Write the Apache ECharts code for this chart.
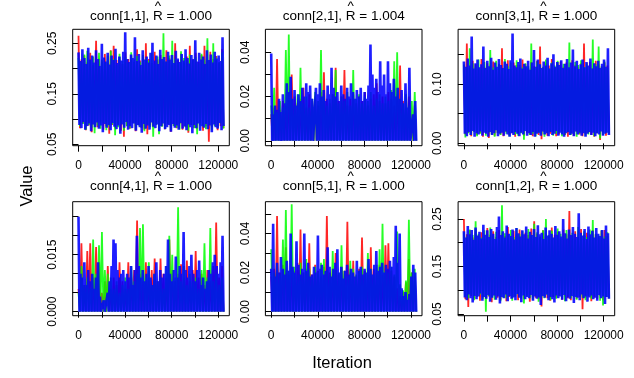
<!DOCTYPE html>
<html><head><meta charset="utf-8">
<script src="https://cdn.jsdelivr.net/npm/echarts@6/dist/echarts.min.js"></script>
<style>html,body{margin:0;padding:0;background:#fff}#c{width:634px;height:378px}</style>
</head><body><div id="c"></div>
<script>
// ---------------- data ----------------
const ITER_END = 124500;
const parameters = ['conn[1,1]','conn[2,1]','conn[3,1]','conn[4,1]','conn[5,1]','conn[1,2]'];
const rhatValues = ['1.000','1.004','1.000','1.000','1.000','1.000'];
const xTicks = [0,20000,40000,60000,80000,100000,120000];
const xTickLabels = [0,40000,80000,120000];
const yTicks = [[.05,.1,.15,.2,.25],[0,.01,.02,.03,.04],[0,.05,.1,.15],[0,.005,.01,.015,.02,.025],[0,.01,.02,.03,.04,.05],[.05,.1,.15,.2,.25]];
const yTickLabels = [[.05,.15,.25],[0,.02,.04],[0,.1],[0,.015],[0,.02,.04],[.05,.15,.25]];

// conn[1,1]
const c11_red = [.265,.082,.218,.091,.226,.078,.212,.087,.231,.074,.207,.089,.255,.084,.22,.093,.214,.079,.229,.086,
.211,.071,.236,.088,.245,.083,.217,.09,.223,.077,.209,.065,.232,.086,.219,.081,.226,.092,.213,.076,
.238,.088,.216,.083,.224,.079,.25,.07,.219,.087,.211,.084,.233,.091,.218,.078,.227,.086,.214,.08,
.236,.089,.221,.075,.208,.087,.25,.082,.217,.09,.229,.079,.212,.085,.224,.073,.245,.088,.218,.083,
.231,.08,.213,.092,.227,.077,.245,.086,.216,.055,.233,.084,.219,.089,.225,.078,.211,.086,.238,.082];
const c11_green = [.221,.086,.213,.09,.228,.079,.235,.088,.216,.083,.224,.072,.209,.087,.231,.081,.218,.092,.212,.078,
.226,.085,.235,.089,.219,.068,.207,.084,.229,.09,.215,.077,.223,.086,.211,.082,.232,.091,.218,.079,
.225,.087,.213,.083,.227,.076,.22,.089,.216,.084,.231,.065,.209,.088,.224,.07,.218,.085,.27,.081,
.214,.09,.226,.078,.255,.086,.219,.083,.212,.079,.234,.091,.221,.084,.215,.077,.228,.088,.217,.082,
.223,.07,.21,.087,.229,.085,.218,.08,.26,.089,.216,.078,.25,.086,.222,.083,.213,.091,.232,.081];
const c11_blue = [.232,.088,.215,.082,.238,.094,.221,.079,.209,.086,.241,.091,.218,.076,.226,.089,.212,.084,.236,.093,
.219,.081,.205,.087,.249,.074,.222,.09,.214,.083,.231,.088,.208,.078,.226,.092,.217,.085,.239,.08,
.211,.087,.224,.071,.216,.089,.233,.083,.272,.094,.219,.079,.213,.086,.228,.082,.221,.091,.262,.077,
.215,.088,.229,.084,.207,.073,.236,.09,.218,.081,.224,.087,.212,.079,.231,.093,.251,.085,.216,.082,
.226,.089,.209,.076,.237,.086,.219,.091,.223,.08,.214,.084,.233,.088,.218,.075,.227,.09,.211,.083,
.235,.087,.22,.079,.213,.092,.229,.081,.216,.086,.238,.078,.221,.089,.21,.084,.227,.072,.219,.088,
.256,.082,.214,.091,.231,.077,.218,.086,.224,.083,.209,.09,.236,.08,.217,.087,.228,.074,.212,.089,
.233,.084,.22,.081,.226,.092,.215,.078,.262,.086];

// conn[2,1]
const c21_red = [.012,0,.015,0,.037,0,.014,0,.018,0,.016,0,.022,0,.03,0,.02,0,.017,0,
.019,0,.024,0,.015,0,.021,0,.018,0,.02,0,.016,0,.022,0,.031,0,.019,0,
.017,0,.021,0,.033,0,.018,0,.02,0,.032,0,.016,0,.019,0,.021,0,.017,0,
.02,0,.018,0,.022,0,.016,0,.019,0,.021,0,.026,0,.018,0,.02,0,.017,0,
.022,0,.019,0,.016,0,.021,0,.034,0,.018,0,.015,0,.02,0,.012,0,.016,0];
const c21_green = [.016,0,.024,0,.013,0,.018,0,.015,0,.041,0,.048,0,.019,0,.016,0,.021,0,
.033,0,.017,0,.02,0,.015,0,.019,0,.022,0,.018,0,.041,0,.02,0,.016,0,
.019,0,.021,0,.032,0,.017,0,.02,0,.018,0,.022,0,.016,0,.032,0,.019,0,
.021,0,.017,0,.02,0,.018,0,.022,0,.016,0,.019,0,.021,0,.017,0,.02,0,
.018,0,.023,0,.036,0,.04,0,.019,0,.017,0,.021,0,.016,0,.018,0,.022,0];
const c21_blue = [.0395,0,.012,0,.016,0,.014,0,.019,0,.013,0,.021,0,.017,0,.026,0,.022,0,
.029,0,.019,0,.023,0,.016,0,.021,0,.018,0,.024,0,.02,0,.026,0,.022,0,
.025,0,.019,0,0,0,.024,0,.021,0,.026,0,.02,0,.023,0,.018,0,.025,0,
.021,0,.033,0,.024,0,.02,0,.022,0,.018,0,.025,0,.021,0,.019,0,.024,0,
.02,0,.026,0,.022,0,.019,0,.023,0,.02,0,.024,0,.018,0,.022,0,.019,0,
.025,0,.0435,0,.03,0,.024,0,.028,0,.022,0,.036,0,.025,0,.03,0,.021,0,
.036,0,.026,0,.022,0,.028,0,.02,0,.024,0,.019,0,.023,0,.017,0,.026,0,
.015,0,.033,0,0,0,.012,0,.018,0];

// conn[3,1]
const c31_red = [.131,.015,.168,.018,.127,.012,.139,.02,.133,.014,.126,.017,.142,.011,.129,.019,.135,.009,.131,.016,
.138,.013,.127,.018,.134,.015,.16,.012,.13,.019,.14,.014,.125,.017,.136,.011,.132,.016,.128,.02,
.141,.013,.133,.018,.126,.015,.137,.012,.13,.017,.139,.014,.163,.007,.128,.019,.135,.013,.131,.016,
.142,.018,.127,.012,.134,.015,.138,.02,.129,.014,.136,.011,.125,.017,.14,.013,.132,.019,.128,.015,
.135,.012,.168,.016,.13,.018,.137,.014,.127,.011,.139,.017,.133,.0056,.129,.019,.136,.013,.131,.016];
const c31_green = [.133,.01,.128,.017,.16,.014,.135,.019,.129,.012,.141,.016,.126,.02,.137,.013,.131,.018,.157,.015,
.128,.011,.139,.017,.133,.014,.126,.019,.142,.016,.13,.012,.136,.018,.127,.015,.14,.013,.132,.017,
.128,.006,.135,.019,.13,.014,.168,.016,.127,.012,.138,.018,.133,.015,.129,.011,.141,.017,.126,.02,
.136,.013,.131,.016,.139,.018,.128,.012,.134,.015,.13,.019,.17,.014,.127,.017,.137,.011,.132,.016,
.14,.018,.129,.013,.135,.015,.128,.019,.175,.012,.133,.017,.163,.008,.13,.014,.138,.018,.127,.016];
const c31_blue = [.138,.016,.129,.012,.143,.019,.131,.014,.18,.021,.126,.011,.135,.017,.141,.015,.128,.02,.133,.013,
.163,.018,.127,.016,.139,.011,.13,.019,.144,.014,.124,.017,.136,.022,.129,.012,.142,.016,.132,.018,
.127,.013,.138,.02,.134,.015,.125,.011,.14,.017,.185,.014,.131,.019,.128,.016,.137,.012,.143,.018,
.126,.015,.134,.021,.13,.013,.139,.017,.124,.014,.136,.019,.157,.011,.129,.016,.141,.018,.133,.013,
.127,.02,.138,.015,.131,.017,.144,.012,.126,.019,.135,.014,.15,.016,.129,.021,.137,.013,.132,.018,
.14,.015,.127,.011,.134,.017,.142,.019,.128,.014,.136,.016,.158,.012,.13,.02,.139,.015,.125,.018,
.133,.013,.141,.017,.128,.011,.137,.016,.131,.019,.143,.014,.126,.018,.135,.012,.13,.017,.139,.015,
.127,.02,.134,.013,.141,.016,.129,.018,.16,.014];

// conn[4,1]
const c41_red = [.006,0,.018,0,.007,0,.016,0,.018,0,.009,0,.017,0,.013,0,.005,0,.008,0,
.012,0,.006,0,.009,0,.007,0,.013,0,.008,0,.006,0,.013,0,.009,0,.011,0,
.024,0,.01,0,.008,0,.013,0,.009,0,.011,0,.014,0,.008,0,.014,0,.01,0,
.009,0,.019,0,.011,0,.008,0,.01,0,.0125,0,.009,0,.0135,0,.008,0,.011,0,
.016,0,.009,0,.01,0,.007,0,.011,0,.008,0,.012,0,.0235,0,.009,0,.012,0];
const c41_green = [.005,0,.012,0,.007,0,.009,0,.006,0,.019,0,.01,0,.0175,0,.021,0,.011,0,
.01,0,.009,0,.006,0,.008,0,.005,0,.007,0,.009,0,.006,0,.012,0,.008,0,
.01,0,.022,0,.023,0,.009,0,.013,0,.007,0,.01,0,.008,0,.009,0,.006,0,
.012,0,.02,0,.015,0,.009,0,.0275,0,.008,0,.012,0,.007,0,.01,0,.008,0,
.009,0,.006,0,.011,0,.018,0,.009,0,.022,0,.008,0,.01,0,.007,0,.009,0];
const c41_blue = [.025,0,.01,0,.009,0,.013,0,.007,0,.011,0,.008,0,.01,0,.006,0,.009,0,
.013,0,.004,0,0,0,.003,0,0,0,.005,0,.008,0,.012,0,.019,0,.018,0,
.011,0,.009,0,.01,0,.011,0,.008,0,.01,0,.009,0,.012,0,.007,0,.011,0,
.02,0,.012,0,.009,0,.011,0,.008,0,.01,0,.012,0,.009,0,.007,0,.01,0,
.013,0,.008,0,.011,0,.009,0,.01,0,.012,0,.019,0,.01,0,.008,0,.011,0,
.0145,0,.009,0,.012,0,.01,0,.021,0,.011,0,.009,0,.012,0,.015,0,.01,0,
.008,0,.011,0,.0135,0,.007,0,.009,0,.006,0,.008,0,.011,0,.01,0,.013,0,
.015,0,.012,0,.01,0,.013,0,.02,0];

// conn[5,1]
const c51_red = [.018,0,.022,0,.049,0,.02,0,.024,0,.033,0,.019,0,.023,0,.021,0,.025,0,
.042,0,.02,0,.022,0,.035,0,.019,0,.024,0,.021,0,.018,0,.023,0,.049,0,
.02,0,.022,0,.03,0,.019,0,.023,0,.021,0,.046,0,.02,0,.026,0,.018,0,
.022,0,.038,0,.021,0,.019,0,.033,0,.022,0,.02,0,.024,0,.019,0,.034,0,
.035,0,.021,0,.018,0,.012,0,.008,0,.01,0,.015,0,.027,0,.02,0,.018,0];
const c51_green = [.032,0,.02,0,.024,0,.019,0,.037,0,.052,0,.021,0,.055,0,.023,0,.019,0,
.025,0,.02,0,.027,0,.022,0,.018,0,.023,0,.02,0,.025,0,.027,0,.021,0,
.019,0,.031,0,.022,0,.02,0,.034,0,.021,0,.018,0,.026,0,.022,0,.019,0,
.021,0,.023,0,.02,0,.03,0,.022,0,.019,0,.024,0,.032,0,.045,0,.021,0,
.02,0,.023,0,.019,0,.041,0,.014,0,.011,0,.016,0,.047,0,.02,0,.022,0];
const c51_blue = [.022,0,.045,0,.018,0,.025,0,.02,0,.028,0,.022,0,.019,0,.026,0,.021,0,
.04,0,.023,0,.02,0,.036,0,.024,0,.019,0,.022,0,.04,0,.021,0,.025,0,
.018,0,.019,0,.023,0,.02,0,.039,0,.022,0,.024,0,.019,0,.021,0,.033,0,
.023,0,.018,0,.022,0,.025,0,.032,0,.02,0,.023,0,.017,0,.021,0,.024,0,
.019,0,.022,0,.02,0,.018,0,.026,0,.021,0,.023,0,.019,0,.022,0,.02,0,
.027,0,.022,0,.019,0,.024,0,.031,0,.021,0,.023,0,.025,0,.02,0,.024,0,
.022,0,.026,0,.023,0,.028,0,.044,0,.025,0,.04,0,.012,0,.008,0,.01,0,
.006,0,.009,0,.018,0,.024,0,.02,0];

// conn[1,2]
const c12_red = [.25,.081,.218,.065,.226,.088,.211,.083,.229,.09,.215,.078,.222,.086,.208,.082,.231,.087,.217,.075,
.224,.089,.212,.084,.227,.08,.219,.091,.214,.077,.233,.086,.21,.083,.225,.088,.218,.079,.228,.085,
.213,.082,.221,.09,.216,.076,.23,.087,.245,.084,.219,.081,.211,.066,.226,.089,.22,.083,.214,.078,
.232,.086,.217,.085,.223,.09,.209,.08,.228,.087,.218,.083,.267,.079,.215,.088,.224,.082,.212,.086,
.229,.06,.216,.084,.221,.089,.213,.077,.227,.085,.218,.082,.211,.088,.225,.079,.227,.086,.214,.083];
const c12_green = [.221,.087,.213,.083,.228,.089,.216,.079,.245,.086,.219,.091,.211,.082,.226,.055,.218,.088,.232,.084,
.214,.08,.223,.09,.209,.077,.279,.085,.22,.083,.215,.088,.227,.078,.212,.086,.231,.091,.218,.082,
.224,.072,.21,.087,.229,.084,.217,.08,.24,.089,.222,.076,.213,.085,.226,.083,.25,.09,.216,.079,
.225,.086,.211,.082,.23,.088,.219,.084,.214,.077,.227,.091,.218,.083,.221,.086,.209,.08,.233,.088,
.217,.084,.224,.079,.212,.087,.228,.082,.248,.089,.219,.085,.215,.078,.226,.068,.213,.086,.222,.083];
const c12_blue = [.224,.085,.211,.079,.235,.091,.218,.083,.227,.074,.206,.088,.232,.081,.215,.087,.223,.093,.209,.078,
.238,.086,.217,.082,.226,.09,.212,.076,.229,.084,.219,.089,.208,.08,.233,.087,.255,.072,.216,.086,
.224,.083,.211,.091,.236,.077,.219,.088,.214,.082,.228,.085,.207,.079,.231,.092,.22,.084,.213,.075,
.226,.089,.218,.081,.234,.086,.209,.083,.223,.09,.216,.078,.229,.087,.212,.082,.237,.085,.218,.069,
.221,.088,.208,.084,.232,.091,.215,.079,.226,.086,.219,.081,.211,.074,.235,.089,.217,.083,.224,.087,
.213,.08,.25,.09,.22,.077,.209,.085,.228,.082,.216,.088,.233,.073,.219,.086,.212,.084,.262,.079,
.221,.091,.215,.083,.229,.087,.208,.076,.234,.085,.218,.089,.225,.081,.211,.084,.231,.078,.219,.09,
.214,.083,.227,.087,.209,.071,.236,.086,.22,.082];

const chains = [
  [c11_red, c11_green, c11_blue],
  [c21_red, c21_green, c21_blue],
  [c31_red, c31_green, c31_blue],
  [c41_red, c41_green, c41_blue],
  [c51_red, c51_green, c51_blue],
  [c12_red, c12_green, c12_blue]
];

// ---------------- layout / style ----------------
const FONT = '"Liberation Sans", Arial, Helvetica, sans-serif';
const COLORS = ['rgba(255,0,0,0.85)','rgba(0,255,0,0.85)','rgba(0,0,255,0.88)'];
const WIDTHS = [1.8, 1.8, 2.6];
const LEFTS = [72.7, 265.4, 458.1];
const TOPS = [29.3, 201.7];
const HEIGHTS = [116.4, 114];
const W = 156.6;
const XMIN = -4980, XMAX = 129480;
const YRANGES = [[.0472,.2777],[-.0022,.0504],[-.004,.1921],[-.00105,.02895],[-.00205,.0563],[.0464,.2864]];
const YDEC = [2,2,2,3,2,2];
const TITLE_SIZE = 13.5, TICK_SIZE = 12, LAB_SIZE = 16.5;
const TITLE_MID = [16.0, 186.0];

const grid = [], xAxis = [], yAxis = [], series = [], graphic = [];
const mctx = document.createElement('canvas').getContext('2d');
function tw(s, size){ mctx.font = size + 'px ' + FONT; return mctx.measureText(s).width; }

parameters.forEach((p, i) => {
  const col = i % 3, row = Math.floor(i / 3);
  grid.push({left: LEFTS[col], top: TOPS[row], width: W, height: HEIGHTS[row], show: true, z: 5,
    borderColor: '#000', borderWidth: 1, backgroundColor: 'transparent', containLabel: false});
  xAxis.push({type: 'value', gridIndex: i, min: XMIN, max: XMAX,
    axisLine: {show: false}, splitLine: {show: false},
    axisTick: {show: true, inside: false, length: 6, lineStyle: {color: '#000', width: 1}, customValues: xTicks},
    axisLabel: {customValues: xTickLabels, formatter: v => String(v), fontSize: TICK_SIZE, color: '#000', fontFamily: FONT, margin: 14}
  });
  const dec = YDEC[i];
  yAxis.push({type: 'value', gridIndex: i, min: YRANGES[i][0], max: YRANGES[i][1],
    axisLine: {show: false}, splitLine: {show: false},
    axisTick: {show: true, inside: false, length: 6, lineStyle: {color: '#000', width: 1}, customValues: yTicks[i]},
    axisLabel: {customValues: yTickLabels[i], rotate: 90, formatter: v => Number(v).toFixed(dec), fontSize: TICK_SIZE, color: '#000', fontFamily: FONT, margin: 14}
  });
  chains[i].forEach((arr, j) => {
    series.push({type: 'line', xAxisIndex: i, yAxisIndex: i, symbol: 'none', silent: true, animation: false,
      lineStyle: {width: WIDTHS[j], color: COLORS[j], join: 'bevel'},
      data: arr.map((v, k) => [k * ITER_END / (arr.length - 1), v])});
  });
  // title with R-hat
  const pre = p + ', ', rr = 'R', suf = ' = ' + rhatValues[i];
  const wPre = tw(pre, TITLE_SIZE), wR = tw(rr, TITLE_SIZE), wSuf = tw(suf, TITLE_SIZE);
  const cx = LEFTS[col] + W / 2;
  const x0 = cx - (wPre + wR + wSuf) / 2;
  graphic.push({type: 'text', x: x0, y: TITLE_MID[row], silent: true,
    style: {text: pre + rr + suf, fontSize: TITLE_SIZE, fontFamily: FONT, fill: '#000', align: 'left', verticalAlign: 'middle', textAlign: 'left', textVerticalAlign: 'middle'}});
  graphic.push({type: 'text', x: x0 + wPre + wR / 2, y: TITLE_MID[row] - 9.7, silent: true,
    style: {text: '^', fontSize: TITLE_SIZE, fontFamily: FONT, fill: '#000', align: 'center', verticalAlign: 'middle', textAlign: 'center', textVerticalAlign: 'middle'}});
});

graphic.push({type: 'text', x: 27, y: 186, rotation: Math.PI / 2, silent: true,
  style: {text: 'Value', fontSize: LAB_SIZE, fontFamily: FONT, fill: '#000', align: 'center', verticalAlign: 'middle', textAlign: 'center', textVerticalAlign: 'middle'}});
graphic.push({type: 'text', x: 342, y: 363, silent: true,
  style: {text: 'Iteration', fontSize: LAB_SIZE, fontFamily: FONT, fill: '#000', align: 'center', verticalAlign: 'middle', textAlign: 'center', textVerticalAlign: 'middle'}});

const chart = echarts.init(document.getElementById('c'), null, {renderer: 'canvas'});
chart.setOption({animation: false, backgroundColor: '#fff', grid, xAxis, yAxis, series, graphic});
</script></body></html>
